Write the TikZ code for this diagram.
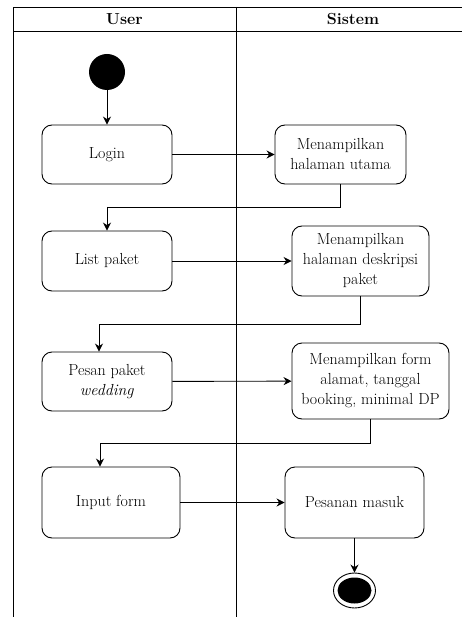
\documentclass[tikz,border=0pt]{standalone}
\usepackage{fontspec}
\usetikzlibrary{arrows.meta,shapes.geometric}

\begin{document}
\begin{tikzpicture}[x=1pt,y=1pt,
    act/.style={draw,rounded corners=10pt,align=center,inner sep=0pt,line width=0.9pt,
      font=\fontsize{16}{20}\selectfont},
    flow/.style={-{Stealth[length=8pt,width=8pt]},line width=0.9pt}]
  \useasboundingbox (0,0) rectangle (462,-617);
  % swimlanes
  \draw[line width=0.9pt] (13,-617)--(13,-7)--(462,-7);
  \draw[line width=0.9pt] (13,-31)--(462,-31);
  \draw[line width=0.9pt] (236,-7)--(236,-617);
  \node[font=\bfseries\fontsize{16}{20}\selectfont] (user) at (124.5,-19) {User};
  \node[font=\bfseries\fontsize{16}{20}\selectfont] (sistem) at (353,-19) {Sistem};
  % nodes
  \node[circle,fill=black,minimum size=36pt,inner sep=0pt] (start) at (107,-72) {};
  \node[act,minimum width=130pt,minimum height=59pt] (login) at (107,-154.5) {Login};
  \node[act,minimum width=131pt,minimum height=59pt] (utama) at (340.5,-154.5) {Menampilkan\\halaman utama};
  \node[act,minimum width=130pt,minimum height=60pt] (list) at (107,-261) {List paket};
  \node[act,minimum width=137pt,minimum height=70pt] (desk) at (360.5,-261) {Menampilkan\\halaman deskripsi\\paket};
  \node[act,minimum width=130pt,minimum height=59pt] (pesan) at (107,-381.5) {Pesan paket\\\textit{wedding}};
  \node[act,minimum width=157pt,minimum height=76pt] (form) at (370.5,-381) {Menampilkan form\\alamat, tanggal\\booking, minimal DP};
  \node[act,minimum width=138pt,minimum height=71pt] (input) at (111,-502.5) {Input form};
  \node[act,minimum width=139pt,minimum height=71pt] (masuk) at (354.5,-502.5) {Pesanan masuk};
  \node[ellipse,draw,line width=0.9pt,minimum width=42pt,minimum height=35pt,inner sep=0pt] (stop) at (354.5,-590.5) {};
  \node[ellipse,fill=black,minimum width=34pt,minimum height=26pt,inner sep=0pt] (stopdot) at (stop) {};
  % bends
  \coordinate (b1) at (107,-207);
  \coordinate (b2) at (99,-324);
  \coordinate (b3) at (100,-443);
  % flows
  \draw[flow] (start) -- (login);
  \draw[flow] (login) -- (utama);
  \draw[line width=0.9pt] (utama.south) |- (b1);
  \draw[flow] (b1) -- (list.north);
  \draw[flow] (list) -- (desk);
  \draw[line width=0.9pt] (desk.south) |- (b2);
  \draw[flow] (b2) -- (b2 |- pesan.north);
  \draw[flow] (pesan) -- (form);
  \draw[line width=0.9pt] (form.south) |- (b3);
  \draw[flow] (b3) -- (b3 |- input.north);
  \draw[flow] (input) -- (masuk);
  \draw[flow] (masuk) -- (stop);
\end{tikzpicture}
\end{document}
